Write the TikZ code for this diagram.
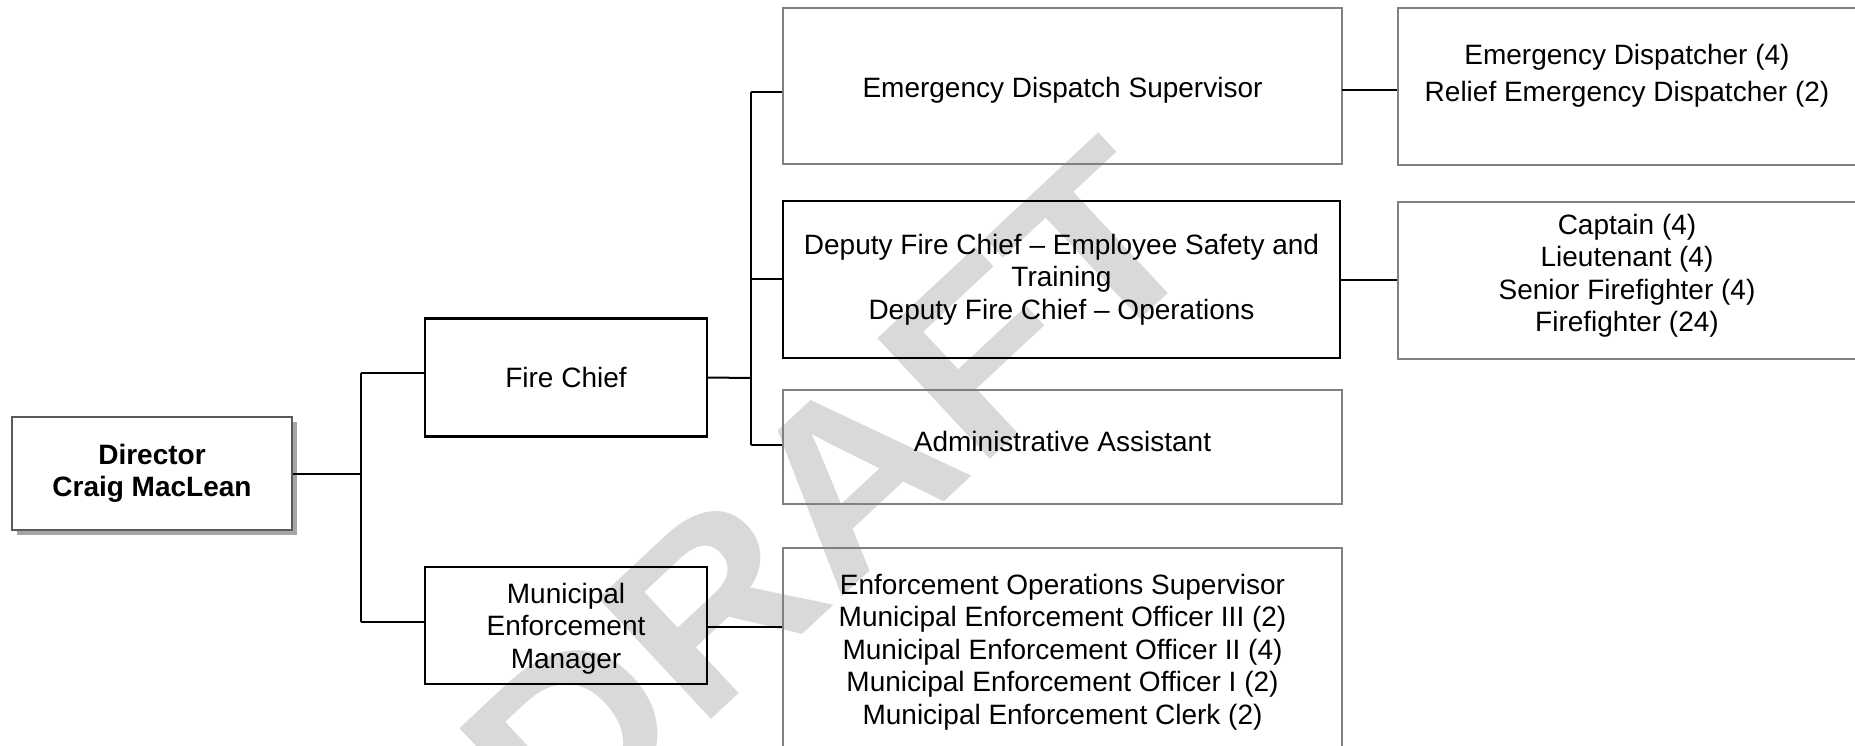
\documentclass[tikz,border=0pt]{standalone}
\usepackage{fontspec}
\setmainfont{Liberation Sans}
\usetikzlibrary{shadows}
\definecolor{boxgray}{RGB}{128,128,128}
\definecolor{dirgray}{RGB}{90,90,90}
\definecolor{wmgray}{RGB}{217,217,217}
\begin{document}
\begin{tikzpicture}[x=1pt,y=-1pt,
  every node/.style={font=\fontsize{28}{32.5}\selectfont, align=center, inner sep=0pt},
  blackbox/.style={draw=black, line width=2.2pt},
  graybox/.style={draw=boxgray, line width=2.2pt},
  dirbox/.style={draw=dirgray, line width=2.2pt, fill=white,
    drop shadow={shadow xshift=5pt, shadow yshift=-5pt, fill=black, opacity=0.35}},
  conn/.style={line width=2pt, draw=black},
  wmark/.style={text=wmgray, anchor=base west, rotate=43, xscale=1.1,
    font=\fontsize{240}{240}\selectfont\bfseries},
]
\useasboundingbox (0,0) rectangle (1855,745);
\clip (0,0) rectangle (1855,745);

% watermark
\node[wmark] (wm) at (559,862) {DRAFT};

% boxes
\node[dirbox, minimum width=280pt, minimum height=113pt, font=\fontsize{28}{32.5}\selectfont\bfseries] (dir) at (152,473.5) {Director\\Craig MacLean};
\node[blackbox, minimum width=282pt, minimum height=118pt] (fc) at (566,377.5) {Fire Chief};
\node[blackbox, minimum width=282pt, minimum height=117pt] (mem) at (566,625.5) {};
\node (memt) at (566,628.5) {Municipal\\Enforcement\\Manager};
\node[graybox, minimum width=559pt, minimum height=156pt] (eds) at (1062.5,86) {};
\node (edst) at (1062.5,90) {Emergency Dispatch Supervisor};
\node[blackbox, minimum width=557pt, minimum height=157pt] (dep) at (1061.5,279.5) {Deputy Fire Chief -- Employee Safety and\\Training\\Deputy Fire Chief -- Operations};
\node[graybox, minimum width=559pt, minimum height=114pt] (adm) at (1062.5,447) {};
\node (admt) at (1062.5,441) {Administrative Assistant};
\node[graybox, minimum width=559pt, minimum height=208pt] (enf) at (1062.5,652) {Enforcement Operations Supervisor\\Municipal Enforcement Officer III (2)\\Municipal Enforcement Officer II (4)\\Municipal Enforcement Officer I (2)\\Municipal Enforcement Clerk (2)};
\node[graybox, minimum width=458pt, minimum height=157pt] (ed) at (1627,86.5) {};
\node[font=\fontsize{28}{37}\selectfont] (edt) at (1627,76) {Emergency Dispatcher (4)\\Relief Emergency Dispatcher (2)};
\node[graybox, minimum width=458pt, minimum height=157pt] (cap) at (1627,280.5) {};
\node (capt) at (1627,276) {Captain (4)\\Lieutenant (4)\\Senior Firefighter (4)\\Firefighter (24)};

% connectors
\coordinate (j1) at (361,473.5);
\coordinate (j1t) at (361,373);
\coordinate (j1b) at (361,622);
\draw[conn] (dir.east) -- (j1);
\draw[conn] (j1t) -- (j1b);
\draw[conn] (j1t) -- (j1t -| fc.west);
\draw[conn] (j1b) -- (j1b -| mem.west);

\coordinate (j2) at (751,378);
\coordinate (j2e) at (751,92);
\coordinate (j2d) at (751,279);
\coordinate (j2a) at (751,445);
\draw[conn] (fc.east) -- (j2);
\draw[conn] (j2e) -- (j2a);
\draw[conn] (j2e) -- (j2e -| eds.west);
\draw[conn] (j2d) -- (j2d -| dep.west);
\draw[conn] (j2a) -- (j2a -| adm.west);

\coordinate (k1) at (1342,90);
\draw[conn] (k1) -- (k1 -| ed.west);
\draw[conn] (dep.east) -- (dep.east -| cap.west);
\coordinate (k2) at (707,627);
\draw[conn] (k2) -- (k2 -| enf.west);
\end{tikzpicture}
\end{document}
